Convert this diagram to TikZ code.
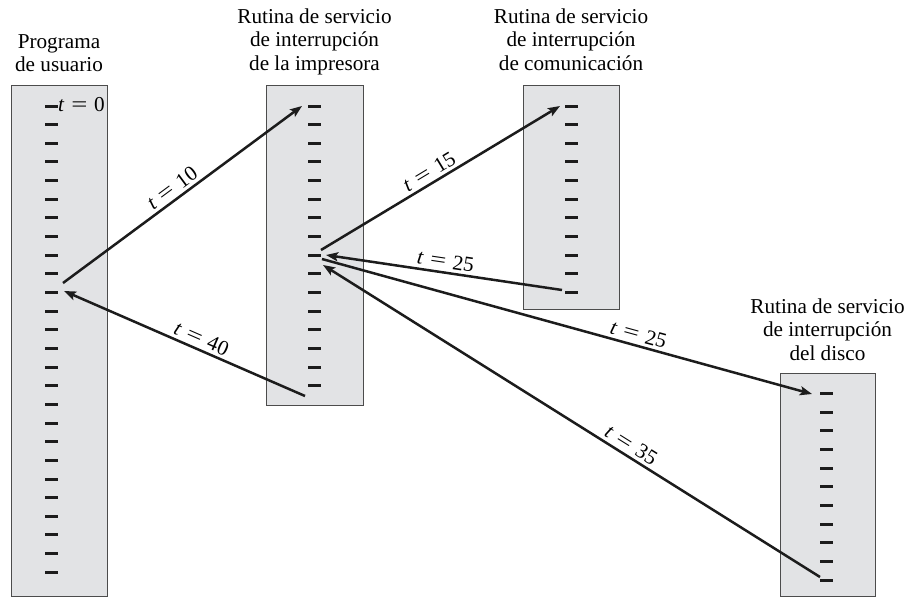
\documentclass[tikz,border=0pt]{standalone}
\usepackage{graphicx}
\usepackage{fontspec}
\setmainfont{Liberation Serif}
\usetikzlibrary{arrows.meta}
\definecolor{panel}{RGB}{226,227,229}
\definecolor{ink}{RGB}{28,28,28}
\newcommand{\tlabel}[1]{\textit{t}\kern0.32em\scalebox{1.35}[1]{=}\kern0.32em#1}

\begin{document}
\begin{tikzpicture}[x=1pt,y=-1pt,
  every node/.style={font=\fontsize{21.2}{23.5}\selectfont},
  panelbox/.style={draw=black!70, line width=1.1pt, fill=panel, inner sep=0pt, anchor=north west},
  title/.style={align=center, inner sep=0pt, anchor=north},
  tickmark/.style={draw=ink, line width=3pt},
  conn/.style={draw=ink, line width=2.5pt, -{Stealth[length=12pt,width=9pt,inset=2.5pt]}},
  connrev/.style={draw=ink, line width=2.5pt, {Stealth[length=12pt,width=9pt,inset=2.5pt]}-},
  tlab/.style={sloped, above, inner sep=3pt}]
\useasboundingbox (0,0) rectangle (909,597);

% execution panels
\node[panelbox, minimum width=96, minimum height=511] (usr) at (11,85) {};
\node[panelbox, minimum width=97, minimum height=320] (prn) at (266,85) {};
\node[panelbox, minimum width=96, minimum height=224] (com) at (523,85) {};
\node[panelbox, minimum width=95, minimum height=223] (dsk) at (780,373) {};

% panel titles
\node[title] (usrT) at (59,34) {Programa\\de usuario};
\node[title] (prnT) at (314.5,8.5) {Rutina de servicio\\de interrupción\\de la impresora};
\node[title] (comT) at (571,8.5) {Rutina de servicio\\de interrupción\\de comunicación};
\node[title] (dskT) at (827.5,298.5) {Rutina de servicio\\de interrupción\\del disco};

% instruction ticks
\foreach \i in {0,...,25} \draw[tickmark] (45,{106+\i*18.65}) -- (58,{106+\i*18.65});
\foreach \i in {0,...,15} \draw[tickmark] (308,{106+\i*18.65}) -- (321,{106+\i*18.65});
\foreach \i in {0,...,10} \draw[tickmark] (565,{106+\i*18.65}) -- (578,{106+\i*18.65});
\foreach \i in {0,...,10} \draw[tickmark] (820,{393.5+\i*18.65}) -- (833,{393.5+\i*18.65});

\node[anchor=base west, inner sep=0pt] (t0) at (58,111) {\tlabel{0}};

% transfer points
\coordinate (u1) at (63,283);
\coordinate (u2) at (64,291);
\coordinate (p1) at (302,106);
\coordinate (p2) at (321,250);
\coordinate (p3) at (326,255);
\coordinate (p4) at (322,259);
\coordinate (p5) at (323,265);
\coordinate (p6) at (305,396);
\coordinate (c1) at (560,106);
\coordinate (c2) at (562,290);
\coordinate (d1) at (812,394);
\coordinate (d2) at (820,577);

% control transfers
\draw[conn] (u1) -- node[tlab, pos=0.485] {\tlabel{10}} (p1);
\draw[conn] (p2) -- node[tlab, pos=0.477] {\tlabel{15}} (c1);
\draw[connrev] (p3) -- node[tlab, pos=0.5] {\tlabel{25}} (c2);
\draw[conn] (p4) -- node[tlab, pos=0.64] {\tlabel{25}} (d1);
\draw[connrev] (p5) -- node[tlab, pos=0.608] {\tlabel{35}} (d2);
\draw[connrev] (u2) -- node[tlab, pos=0.552] {\tlabel{40}} (p6);
\end{tikzpicture}
\end{document}
